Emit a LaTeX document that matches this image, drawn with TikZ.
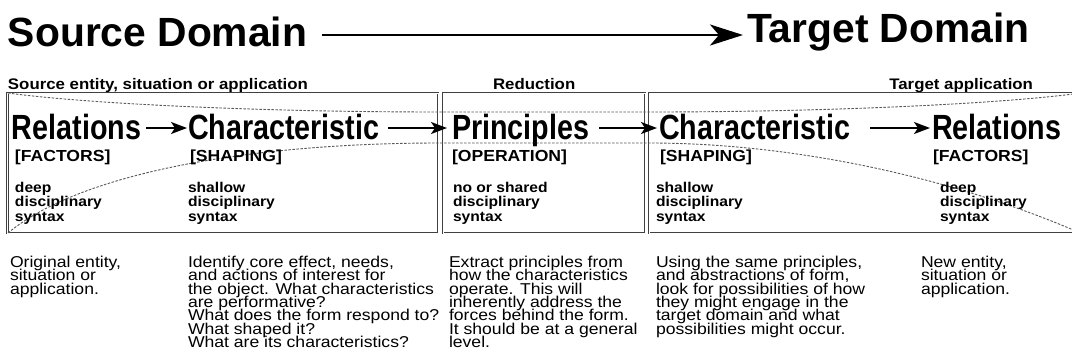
\documentclass[tikz,border=0pt]{standalone}
\usepackage{fontspec}
\setmainfont{Liberation Sans}
% slightly widened cut of the same face for the smaller lettering
\newfontfamily\widesans[FakeStretch=1.1]{Liberation Sans}
\newfontfamily\widersans[FakeStretch=1.12]{Liberation Sans}
\usetikzlibrary{arrows.meta}
% let closely set lines overlap instead of being pushed apart
\newcommand\tightlead{\lineskiplimit=-30pt\relax}
\begin{document}
\begin{tikzpicture}[x=1pt,y=-1pt,
  every node/.style={inner sep=0pt, outer sep=0pt},
  domaintitle/.style={anchor=base west, text height=22pt, text depth=0pt,
    font=\fontsize{40.8}{41}\selectfont\bfseries},
  stage/.style={anchor=base west, font=\widesans\fontsize{15.3}{16}\selectfont\bfseries},
  bigword/.style={anchor=base west, text height=22pt, text depth=0pt,
    font=\fontsize{35}{35}\selectfont\bfseries},
  tag/.style={anchor=base west, font=\widesans\fontsize{16}{16}\selectfont\bfseries},
  % multi-line nodes: the base anchor sits on the last line
  syntax/.style={anchor=base west, align=left,
    font=\widesans\fontsize{14.2}{14.5}\selectfont\bfseries\tightlead},
  note/.style={anchor=base west, align=left,
    font=\widersans\fontsize{15.7}{13.3}\selectfont\tightlead},
  panel/.style={draw=black!75, line width=0.6pt, double=white, double distance=0.9pt},
  guide/.style={draw=black!65, line width=0.9pt, dash pattern=on 2.5pt off 1.5pt},
  flow/.style={line width=1.8pt, -{Stealth[length=16pt,width=12pt,inset=4pt]}},
  domainflow/.style={line width=2.8pt, -{Stealth[length=33pt,width=21pt,inset=9pt]}},
]
\useasboundingbox (0,0) rectangle (1072,359);

% domain headings
\node[domaintitle] (src) at (8,46) {Source Domain};
\node[domaintitle] (tgt) at (747,42) {Target Domain};
\draw[domainflow] ([xshift=15pt]src.east) -- ([xshift=-4pt]src.east -| tgt.west);

% stage headings
\node[stage] (hsrc) at (8,89) {Source entity, situation or application};
\node[stage] (hred) at (493,89) {Reduction};
\node[stage, anchor=base east] (htgt) at (1033,89) {Target application};

% panels
\draw[panel] (7.5,93) rectangle (438,233);
\draw[panel] (443,93) rectangle (645,233);
\draw[panel] (649,93) rectangle (1090,233);

% narrowing / widening guides
\draw[guide] (8,93) .. controls (80,103) and (250,112) .. (440,112)
  -- (649,112) .. controls (839,112) and (1009,103) .. (1081,93);
\draw[guide] (8,233) .. controls (80,173) and (250,143) .. (440,143)
  -- (649,143) .. controls (800,143) and (960,180) .. (1085,235);

% stages
\node[bigword] (rel1) at (12,139) {\scalebox{0.82}[1]{Relations}};
\node[bigword] (char1) at (188,139) {\scalebox{0.82}[1]{Characteristic}};
\node[bigword] (prin) at (452,139) {\scalebox{0.82}[1]{Principles}};
\node[bigword] (char2) at (659,139) {\scalebox{0.82}[1]{Characteristic}};
\node[bigword] (rel2) at (932,139) {\scalebox{0.82}[1]{Relations}};

\draw[flow, shorten <=5pt, shorten >=1pt] (rel1) -- (char1);
\draw[flow, shorten <=9pt, shorten >=5pt] (char1) -- (prin);
\draw[flow, shorten <=10pt, shorten >=2pt] (prin) -- (char2);
\draw[flow, shorten <=20pt, shorten >=2pt] (char2) -- (rel2);

\node[tag] (t1) at (15,161) {[FACTORS]};
\node[tag] (t2) at (190,161) {[SHAPING]};
\node[tag] (t3) at (452,161) {[OPERATION]};
\node[tag] (t4) at (660,161) {[SHAPING]};
\node[tag] (t5) at (933,161) {[FACTORS]};

\node[syntax] (s1) at (15,221) {deep\\disciplinary\\syntax};
\node[syntax] (s2) at (188,221) {shallow\\disciplinary\\syntax};
\node[syntax] (s3) at (453,221) {no or shared\\disciplinary\\syntax};
\node[syntax] (s4) at (656,221) {shallow\\disciplinary\\syntax};
\node[syntax] (s5) at (940,221) {deep\\disciplinary\\syntax};

% descriptions
\node[note] (n1) at (10,294.1) {Original entity,\\situation or\\application.};
\node[note] (n2) at (188,347.3) {Identify core effect, needs,\\and actions of interest for\\the object. What characteristics\\are performative?\\What does the form respond to?\\What shaped it?\\What are its characteristics?};
\node[note] (n3) at (449,347.3) {Extract principles from\\how the characteristics\\operate. This will\\inherently address the\\forces behind the form.\\It should be at a general\\level.};
\node[note] (n4) at (656,334) {Using the same principles,\\and abstractions of form,\\look for possibilities of how\\they might engage in the\\target domain and what\\possibilities might occur.};
\node[note] (n5) at (921,294.1) {New entity,\\situation or\\application.};
\end{tikzpicture}
\end{document}
